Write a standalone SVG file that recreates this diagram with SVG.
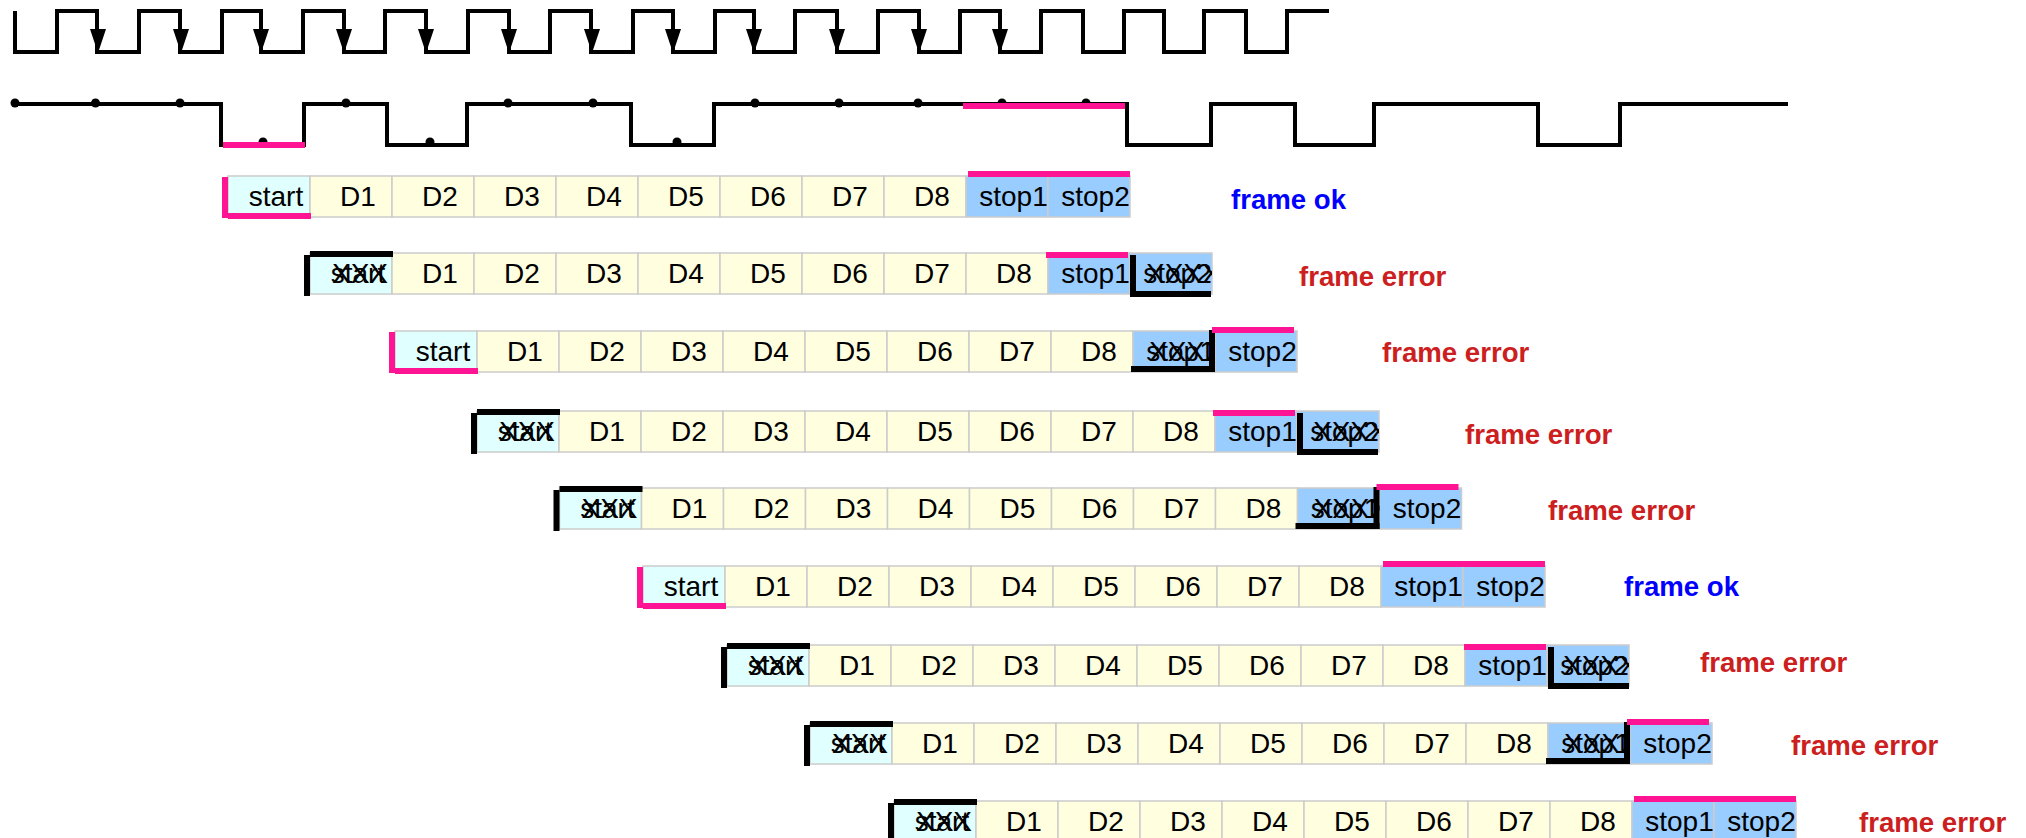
<svg xmlns="http://www.w3.org/2000/svg" width="2026" height="838" viewBox="0 0 2026 838">
<style>
text{font-family:"Liberation Sans",Arial,sans-serif}
.t{font-size:28px;fill:#000;text-anchor:middle}
.x{font-size:28px;fill:#000;text-anchor:start}
.ok{font-size:27.6px;font-weight:bold;fill:#0000ff}
.er{font-size:27.6px;font-weight:bold;fill:#cc2020}
.w{fill:none;stroke:#000;stroke-width:4;stroke-linejoin:miter}
.c{stroke:#cccccc;stroke-width:1.500}
.s{fill:#e0ffff}.d{fill:#ffffe0}.p{fill:#99ccff}
.pk{fill:#ff1493}.bk{fill:#000}
</style>
<defs>
<clipPath id="c1"><rect x="738" y="0" width="82" height="41"/></clipPath>
<clipPath id="c2"><rect x="820" y="0" width="82" height="41"/></clipPath>
<g id="cells">
<rect class="c s" x="0" y="0" width="82" height="41"/>
<rect class="c d" x="82" y="0" width="82" height="41"/>
<rect class="c d" x="164" y="0" width="82" height="41"/>
<rect class="c d" x="246" y="0" width="82" height="41"/>
<rect class="c d" x="328" y="0" width="82" height="41"/>
<rect class="c d" x="410" y="0" width="82" height="41"/>
<rect class="c d" x="492" y="0" width="82" height="41"/>
<rect class="c d" x="574" y="0" width="82" height="41"/>
<rect class="c d" x="656" y="0" width="82" height="41"/>
<rect class="c p" x="738" y="0" width="82" height="41"/>
<rect class="c p" x="820" y="0" width="82" height="41"/>
</g>
<g id="startPink"><rect class="pk" x="-6" y="1" width="6" height="41"/><rect class="pk" x="0" y="37" width="83" height="6"/></g>
<g id="startBlack"><rect class="bk" x="-6" y="2" width="6" height="41"/><rect class="bk" x="0" y="-2" width="83" height="6"/></g>
<g id="stopsOk"><rect class="pk" x="740" y="-5" width="162" height="6"/></g>
<g id="stop2Bad"><rect class="pk" x="736" y="-1" width="82" height="6"/><rect class="bk" x="820" y="2" width="6" height="42"/><rect class="bk" x="820" y="38" width="81" height="6"/></g>
<g id="stop1Bad"><rect class="bk" x="736" y="35" width="84" height="6"/><rect class="bk" x="814" y="-1" width="6" height="42"/><rect class="pk" x="817" y="-4" width="82" height="6"/></g>
<path id="ah" d="M-8 29H8L0 53Z" fill="#000"/>
</defs>
<rect width="2026" height="838" fill="#fff"/>
<g id="connectors">
<path id="clock" class="w" d="M15 11V52H57V11H97V52H139V11H180V52H222V11H261V52H303V11H344V52H385V11H426V52H468V11H509V52H550V11H591V52H633V11H673V52H715V11H754V52H795V11H837V52H878V11H919V52H960V11H1000V52H1041V11H1083V52H1124V11H1164V52H1204V11H1246V52H1287V11H1329"/>
<use href="#ah" x="98"/><use href="#ah" x="181"/><use href="#ah" x="261"/><use href="#ah" x="344"/><use href="#ah" x="426"/><use href="#ah" x="509"/><use href="#ah" x="592"/><use href="#ah" x="673"/><use href="#ah" x="754"/><use href="#ah" x="837"/><use href="#ah" x="919"/><use href="#ah" x="1000"/>
<path id="data" class="w" d="M15 104H221V145H304V104H387V145H467V104H631V145H714V104H1127V145H1211V104H1295V145H1374V104H1538V145H1620V104H1788"/>
<g fill="#000"><circle cx="15" cy="103" r="4.5"/><circle cx="95.500" cy="103" r="4.5"/><circle cx="180" cy="103" r="4.5"/><circle cx="263" cy="142" r="4.5"/><circle cx="346" cy="103" r="4.5"/><circle cx="430" cy="142" r="4.5"/><circle cx="508" cy="103" r="4.5"/><circle cx="593" cy="103" r="4.5"/><circle cx="677" cy="142" r="4.5"/><circle cx="755" cy="103" r="4.5"/><circle cx="839" cy="103" r="4.5"/><circle cx="918" cy="103" r="4.5"/><circle cx="1002" cy="103" r="4.5"/><circle cx="1086" cy="103" r="4.5"/></g>
<rect class="pk" x="223" y="142" width="82" height="6"/>
<rect class="pk" x="963" y="103" width="162" height="6"/>
</g>
<g id="frame1" transform="translate(228 176)"><use href="#cells"/><text class="t" x="48" y="30">start</text><text class="t" x="130" y="30">D1</text><text class="t" x="212" y="30">D2</text><text class="t" x="294" y="30">D3</text><text class="t" x="376" y="30">D4</text><text class="t" x="458" y="30">D5</text><text class="t" x="540" y="30">D6</text><text class="t" x="622" y="30">D7</text><text class="t" x="704" y="30">D8</text><text class="t" x="785.500" y="30">stop1</text><text class="t" x="867.500" y="30">stop2</text><use href="#startPink"/><use href="#stopsOk"/></g>
<g id="frame2" transform="translate(310 253)"><use href="#cells"/><text class="t" x="48" y="30">start</text><text class="x" x="22" y="30">XXX</text><text class="t" x="130" y="30">D1</text><text class="t" x="212" y="30">D2</text><text class="t" x="294" y="30">D3</text><text class="t" x="376" y="30">D4</text><text class="t" x="458" y="30">D5</text><text class="t" x="540" y="30">D6</text><text class="t" x="622" y="30">D7</text><text class="t" x="704" y="30">D8</text><text class="t" x="785.500" y="30">stop1</text><text class="t" x="867.500" y="30">stop2</text><text class="x" x="836" y="30" clip-path="url(#c2)">XXXX</text><use href="#startBlack"/><use href="#stop2Bad"/></g>
<g id="frame3" transform="translate(395 331)"><use href="#cells"/><text class="t" x="48" y="30">start</text><text class="t" x="130" y="30">D1</text><text class="t" x="212" y="30">D2</text><text class="t" x="294" y="30">D3</text><text class="t" x="376" y="30">D4</text><text class="t" x="458" y="30">D5</text><text class="t" x="540" y="30">D6</text><text class="t" x="622" y="30">D7</text><text class="t" x="704" y="30">D8</text><text class="t" x="785.500" y="30">stop1</text><text class="x" x="754" y="30" clip-path="url(#c1)">XXXX</text><text class="t" x="867.500" y="30">stop2</text><use href="#startPink"/><use href="#stop1Bad"/></g>
<g id="frame4" transform="translate(477 411)"><use href="#cells"/><text class="t" x="48" y="30">start</text><text class="x" x="22" y="30">XXX</text><text class="t" x="130" y="30">D1</text><text class="t" x="212" y="30">D2</text><text class="t" x="294" y="30">D3</text><text class="t" x="376" y="30">D4</text><text class="t" x="458" y="30">D5</text><text class="t" x="540" y="30">D6</text><text class="t" x="622" y="30">D7</text><text class="t" x="704" y="30">D8</text><text class="t" x="785.500" y="30">stop1</text><text class="t" x="867.500" y="30">stop2</text><text class="x" x="836" y="30" clip-path="url(#c2)">XXXX</text><use href="#startBlack"/><use href="#stop2Bad"/></g>
<g id="frame5" transform="translate(559.500 488)"><use href="#cells"/><text class="t" x="48" y="30">start</text><text class="x" x="22" y="30">XXX</text><text class="t" x="130" y="30">D1</text><text class="t" x="212" y="30">D2</text><text class="t" x="294" y="30">D3</text><text class="t" x="376" y="30">D4</text><text class="t" x="458" y="30">D5</text><text class="t" x="540" y="30">D6</text><text class="t" x="622" y="30">D7</text><text class="t" x="704" y="30">D8</text><text class="t" x="785.500" y="30">stop1</text><text class="x" x="754" y="30" clip-path="url(#c1)">XXXX</text><text class="t" x="867.500" y="30">stop2</text><use href="#startBlack"/><use href="#stop1Bad"/></g>
<g id="frame6" transform="translate(643 566)"><use href="#cells"/><text class="t" x="48" y="30">start</text><text class="t" x="130" y="30">D1</text><text class="t" x="212" y="30">D2</text><text class="t" x="294" y="30">D3</text><text class="t" x="376" y="30">D4</text><text class="t" x="458" y="30">D5</text><text class="t" x="540" y="30">D6</text><text class="t" x="622" y="30">D7</text><text class="t" x="704" y="30">D8</text><text class="t" x="785.500" y="30">stop1</text><text class="t" x="867.500" y="30">stop2</text><use href="#startPink"/><use href="#stopsOk"/></g>
<g id="frame7" transform="translate(727 645)"><use href="#cells"/><text class="t" x="48" y="30">start</text><text class="x" x="22" y="30">XXX</text><text class="t" x="130" y="30">D1</text><text class="t" x="212" y="30">D2</text><text class="t" x="294" y="30">D3</text><text class="t" x="376" y="30">D4</text><text class="t" x="458" y="30">D5</text><text class="t" x="540" y="30">D6</text><text class="t" x="622" y="30">D7</text><text class="t" x="704" y="30">D8</text><text class="t" x="785.500" y="30">stop1</text><text class="t" x="867.500" y="30">stop2</text><text class="x" x="836" y="30" clip-path="url(#c2)">XXXX</text><use href="#startBlack"/><use href="#stop2Bad" x="1"/></g>
<g id="frame8" transform="translate(810 723)"><use href="#cells"/><text class="t" x="48" y="30">start</text><text class="x" x="22" y="30">XXX</text><text class="t" x="130" y="30">D1</text><text class="t" x="212" y="30">D2</text><text class="t" x="294" y="30">D3</text><text class="t" x="376" y="30">D4</text><text class="t" x="458" y="30">D5</text><text class="t" x="540" y="30">D6</text><text class="t" x="622" y="30">D7</text><text class="t" x="704" y="30">D8</text><text class="t" x="785.500" y="30">stop1</text><text class="x" x="754" y="30" clip-path="url(#c1)">XXXX</text><text class="t" x="867.500" y="30">stop2</text><use href="#startBlack"/><use href="#stop1Bad"/></g>
<g id="frame9" transform="translate(894 801)"><use href="#cells"/><text class="t" x="48" y="30">start</text><text class="x" x="22" y="30">XXX</text><text class="t" x="130" y="30">D1</text><text class="t" x="212" y="30">D2</text><text class="t" x="294" y="30">D3</text><text class="t" x="376" y="30">D4</text><text class="t" x="458" y="30">D5</text><text class="t" x="540" y="30">D6</text><text class="t" x="622" y="30">D7</text><text class="t" x="704" y="30">D8</text><text class="t" x="785.500" y="30">stop1</text><text class="t" x="867.500" y="30">stop2</text><use href="#startBlack"/><use href="#stopsOk"/></g>
<g id="results">
<text class="ok" x="1231" y="209">frame ok</text>
<text class="er" x="1299" y="286">frame error</text>
<text class="er" x="1382" y="362">frame error</text>
<text class="er" x="1465" y="444">frame error</text>
<text class="er" x="1548" y="520">frame error</text>
<text class="ok" x="1624" y="596">frame ok</text>
<text class="er" x="1700" y="672">frame error</text>
<text class="er" x="1791" y="755">frame error</text>
<text class="er" x="1859" y="832">frame error</text>
</g>
</svg>
